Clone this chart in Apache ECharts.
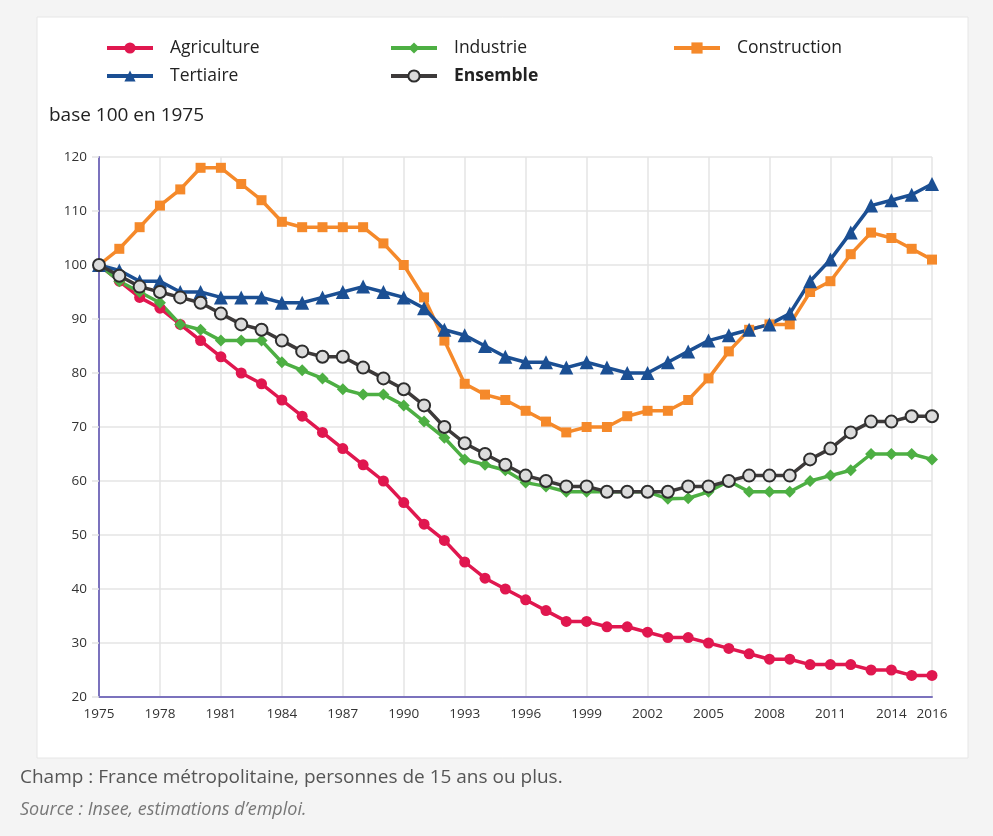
<!DOCTYPE html>
<html>
<head>
<meta charset="utf-8">
<script src="https://cdn.jsdelivr.net/npm/echarts@6/dist/echarts.min.js"></script>
<style>
  html, body { margin: 0; padding: 0; background: #f4f4f4; }
  #chart { width: 993px; height: 836px; }
</style>
</head>
<body>
<div id="chart"></div>
<script>
// années 1975 - 2016
var years = [];
for (var y = 1975; y <= 2016; y++) { years.push(String(y)); }

var agriculture = [100, 97, 94, 92, 89, 86, 83, 80, 78, 75, 72, 69, 66, 63, 60, 56, 52, 49, 45, 42, 40, 38, 36, 34, 34, 33, 33, 32, 31, 31, 30, 29, 28, 27, 27, 26, 26, 26, 25, 25, 24, 24];
var industrie = [100, 97, 95, 93, 89, 88, 86, 86, 86, 82, 80.5, 79, 77, 76, 76, 74, 71, 68, 64, 63, 62, 59.7, 59, 58, 58, 58, 58, 58, 56.7, 56.8, 58, 60, 58, 58, 58, 60, 61, 62, 65, 65, 65, 64];
var construction = [100, 103, 107, 111, 114, 118, 118, 115, 112, 108, 107, 107, 107, 107, 104, 100, 94, 86, 78, 76, 75, 73, 71, 69, 70, 70, 72, 73, 73, 75, 79, 84, 88, 89, 89, 95, 97, 102, 106, 105, 103, 101];
var tertiaire = [100, 99, 97, 97, 95, 95, 94, 94, 94, 93, 93, 94, 95, 96, 95, 94, 92, 88, 87, 85, 83, 82, 82, 81, 82, 81, 80, 80, 82, 84, 86, 87, 88, 89, 91, 97, 101, 106, 111, 112, 113, 115];
var ensemble = [100, 98, 96, 95, 94, 93, 91, 89, 88, 86, 84, 83, 83, 81, 79, 77, 74, 70, 67, 65, 63, 61, 60, 59, 59, 58, 58, 58, 58, 59, 59, 60, 61, 61, 61, 64, 66, 69, 71, 71, 72, 72];

var myChart = echarts.init(document.getElementById('chart'));

// une étiquette tous les 3 ans + la dernière année
function showYear(index) {
    return index % 3 === 0 || index === years.length - 1;
}

function legendAt(name, left, top, bold) {
    return {
        data: [name],
        left: left,
        top: top,
        itemWidth: 46,
        itemHeight: 14,
        itemGap: 0,
        padding: 0,
        lineStyle: { width: 4 },
        textStyle: {
            fontFamily: 'Open Sans',
            fontSize: 17.5,
            color: '#222',
            fontWeight: bold ? 'bold' : 'normal',
            padding: [0, 0, 0, 12]
        }
    };
}

function lineSeries(name, data, symbol, size, color) {
    return {
        name: name,
        type: 'line',
        data: data,
        symbol: symbol,
        symbolSize: size,
        showAllSymbol: true,
        color: color,
        lineStyle: { width: 3.5 },
        z: 3
    };
}

var ensembleSerie = lineSeries('Ensemble', ensemble, 'circle', 12, '#3a3a3a');
ensembleSerie.itemStyle = { color: '#dcdcdc', borderColor: '#2e2e2e', borderWidth: 2 };
ensembleSerie.lineStyle = { width: 3.5, color: '#3d3a3a' };
ensembleSerie.z = 4;

var option = {
    backgroundColor: '#f4f4f4',
    animation: false,
    graphic: [
        {
            type: 'rect',
            z: -10,
            shape: { x: 37, y: 17, width: 931, height: 741 },
            style: { fill: '#ffffff', stroke: '#e6e6e6', lineWidth: 1 }
        },
        {
            type: 'text',
            left: 49,
            top: 106,
            style: { text: 'base 100 en 1975', font: '19px "Open Sans"', fill: '#222' }
        },
        {
            type: 'text',
            left: 20,
            top: 768,
            style: { text: 'Champ : France métropolitaine, personnes de 15 ans ou plus.', font: '19px "Open Sans"', fill: '#555' }
        },
        {
            type: 'text',
            left: 20,
            top: 801,
            style: { text: 'Source : Insee, estimations d’emploi.', font: 'italic 18px "Open Sans"', fill: '#777' }
        }
    ],
    legend: [
        legendAt('Agriculture', 105, 39),
        legendAt('Industrie', 389, 39),
        legendAt('Construction', 672, 39),
        legendAt('Tertiaire', 105, 67),
        legendAt('Ensemble', 389, 67, true)
    ],
    grid: {
        left: 99,
        right: 61,
        top: 157,
        bottom: 139
    },
    xAxis: {
        type: 'category',
        data: years,
        boundaryGap: false,
        axisLine: { lineStyle: { color: '#7b72bd', width: 2 } },
        axisTick: { show: false },
        axisLabel: {
            interval: showYear,
            color: '#333',
            fontFamily: 'Open Sans',
            fontSize: 13.5,
            margin: 10
        },
        splitLine: {
            show: true,
            interval: showYear,
            lineStyle: { color: '#e4e4e4', width: 1.5 }
        }
    },
    yAxis: {
        type: 'value',
        min: 20,
        max: 120,
        interval: 10,
        axisLine: { show: true, lineStyle: { color: '#7b72bd', width: 2 } },
        axisTick: { show: true, length: 7, lineStyle: { color: '#e4e4e4', width: 1.5 } },
        axisLabel: {
            color: '#333',
            fontFamily: 'Open Sans',
            fontSize: 13.5,
            margin: 12
        },
        splitLine: { lineStyle: { color: '#e4e4e4', width: 1.5 } }
    },
    series: [
        lineSeries('Agriculture', agriculture, 'circle', 11, '#e0174f'),
        lineSeries('Industrie', industrie, 'diamond', 12, '#4daf43'),
        lineSeries('Construction', construction, 'rect', 10, '#f5892a'),
        lineSeries('Tertiaire', tertiaire, 'triangle', 14, '#1b4f93'),
        ensembleSerie
    ]
};

myChart.setOption(option);
</script>
</body>
</html>
